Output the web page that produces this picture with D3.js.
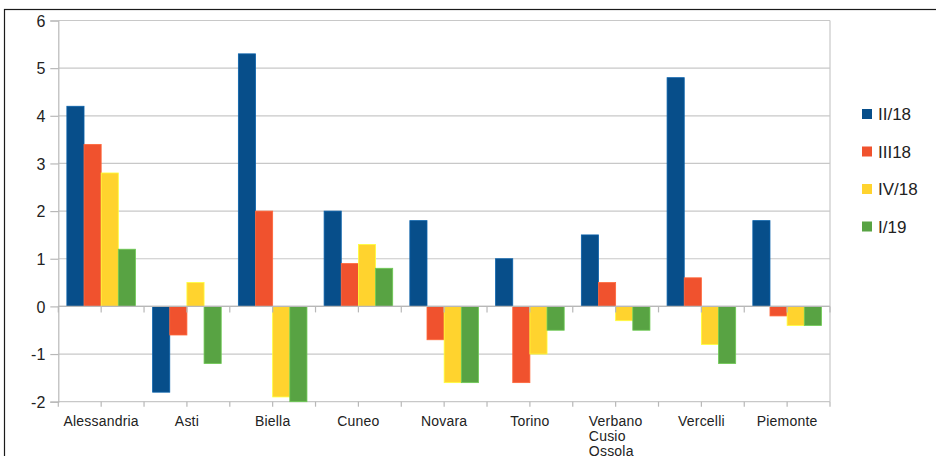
<!DOCTYPE html>
<html><head><meta charset="utf-8">
<script src="https://cdn.jsdelivr.net/npm/d3@7/dist/d3.min.js"></script>
<style>html,body{margin:0;padding:0;background:#fff;}svg{display:block;}</style>
</head><body>
<svg id="c" width="936" height="456"></svg>
<script>
const categories = ["Alessandria","Asti","Biella","Cuneo","Novara","Torino","Verbano\nCusio\nOssola","Vercelli","Piemonte"];
const seriesNames = ["II/18","III18","IV/18","I/19"];
const s1 = [4.2,-1.8,5.3,2.0,1.8,1.0,1.5,4.8,1.8];
const s2 = [3.4,-0.6,2.0,0.9,-0.7,-1.6,0.5,0.6,-0.2];
const s3 = [2.8,0.5,-1.9,1.3,-1.6,-1.0,-0.3,-0.8,-0.4];
const s4 = [1.2,-1.2,-2.0,0.8,-1.6,-0.5,-0.5,-1.2,-0.4];
const yTicks = [-2,-1,0,1,2,3,4,5,6];
const colors = ["#074e8a","#f0522e","#ffd32e","#58a343"];
const series = [s1,s2,s3,s4];

const svg = d3.select("#c");
const L = 58.3, R = 830, T = 20.5, B = 401.7;
const font = "Liberation Sans, Arial, sans-serif";

// outer frame
svg.append("rect").attr("x",4.5).attr("y",9.5).attr("width",1000).attr("height",1000)
  .attr("fill","none").attr("stroke","#1a1a1a").attr("stroke-width",1.2);

const x = d3.scaleBand().domain(categories).range([L,R]).paddingInner(0).paddingOuter(0);
const xs = d3.scaleBand().domain(d3.range(4)).range([0,x.bandwidth()]).paddingInner(0).paddingOuter(0.5);
const y = d3.scaleLinear().domain([-2,6]).range([B,T]);

// gridlines
svg.append("g").selectAll("line").data(yTicks).join("line")
  .attr("x1",L).attr("x2",R).attr("y1",d=>y(d)).attr("y2",d=>y(d))
  .attr("stroke","#c8c8c8").attr("stroke-width",1.2);
// right border
svg.append("line").attr("x1",R).attr("x2",R).attr("y1",T).attr("y2",B).attr("stroke","#c8c8c8").attr("stroke-width",1.2);

// y axis
const yAxis = d3.axisLeft(y).tickValues(yTicks).tickSize(8).tickPadding(5).tickFormat(d=>d<0?"-"+Math.abs(d):d);
const gy = svg.append("g").attr("transform",`translate(${L},0)`).call(yAxis);
gy.select(".domain").attr("stroke","#b8b8b8").attr("stroke-width",1.2);
gy.selectAll(".tick line").attr("stroke","#b8b8b8").attr("stroke-width",1.2);
gy.selectAll(".tick text").attr("font-family",font).attr("font-size",16).attr("fill","#222").attr("dy","0.36em");

// bars
const g = svg.append("g");
series.forEach((s,si)=>{
  g.selectAll(null).data(s).join("rect")
    .attr("x",(d,i)=>x(categories[i])+xs(si))
    .attr("width",xs.bandwidth())
    .attr("y",d=>Math.min(y(d),y(0)))
    .attr("height",d=>Math.abs(y(d)-y(0)))
    .attr("fill",colors[si])
    .attr("stroke",d3.color(colors[si]).brighter(0.6))
    .attr("stroke-width",0.8);
});

// x axis at zero and bottom ticks
const halfTicks = d3.range(0,categories.length*2+1).map(k=>L + k*x.bandwidth()/2);
svg.append("line").attr("x1",L).attr("x2",R).attr("y1",y(0)).attr("y2",y(0)).attr("stroke","#b8b8b8").attr("stroke-width",1.2);
svg.append("g").selectAll("line").data(halfTicks).join("line")
  .attr("x1",d=>d).attr("x2",d=>d).attr("y1",y(0)).attr("y2",y(0)+6)
  .attr("stroke","#b8b8b8").attr("stroke-width",1.2);
svg.append("g").selectAll("line").data(halfTicks).join("line")
  .attr("x1",d=>d).attr("x2",d=>d).attr("y1",B).attr("y2",B+5)
  .attr("stroke","#b8b8b8").attr("stroke-width",1.2);

// category labels
categories.forEach(c=>{
  const lines = c.split("\n");
  const cx = x(c)+x.bandwidth()/2;
  const t = svg.append("text").attr("font-family",font).attr("font-size",14).attr("fill","#222")
    .attr("letter-spacing","0.2px");
  lines.forEach((ln,i)=>t.append("tspan").attr("x",0).attr("y",426+i*15).text(ln));
  let maxW = 0;
  t.selectAll("tspan").each(function(){maxW=Math.max(maxW,this.getComputedTextLength());});
  t.selectAll("tspan").attr("x",cx-maxW/2);
});

// legend
const lg = svg.append("g");
seriesNames.forEach((n,i)=>{
  const cy = 114 + i*37.5;
  lg.append("rect").attr("x",862).attr("y",cy-5).attr("width",10).attr("height",10).attr("fill",colors[i]);
  lg.append("text").attr("x",878).attr("y",cy).attr("dy","0.36em").attr("font-family",font)
    .attr("font-size",17).attr("fill","#222").text(n);
});
</script>
</body></html>
